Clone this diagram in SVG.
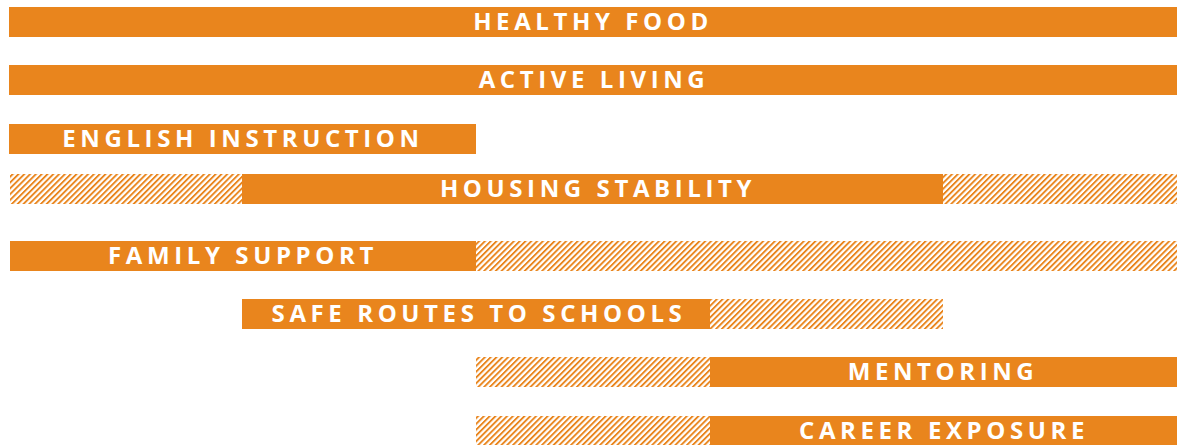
<svg xmlns="http://www.w3.org/2000/svg" width="1188" height="445" viewBox="0 0 1188 445">
  <defs>
    <pattern id="hatch" patternUnits="userSpaceOnUse" width="4.1" height="4.1" patternTransform="rotate(45)">
      <rect x="0" y="0" width="1.9" height="4.1" fill="#E9851D"/>
    </pattern>
    <style>
      .solid { fill: #E9851D; }
      .hatch { fill: url(#hatch); }
      .lbl { fill: #FFFFFF; font-family: "Open Sans", "Liberation Sans", sans-serif; font-weight: 700; font-size: 24px; letter-spacing: 4.6px; text-anchor: middle; }
    </style>
  </defs>
  <rect width="1188" height="445" fill="#FFFFFF"/>
  <g id="healthy-food">
    <rect class="solid" x="9" y="7" width="1168" height="30"/>
    <text class="lbl" x="593" y="30">HEALTHY FOOD</text>
  </g>
  <g id="active-living">
    <rect class="solid" x="9" y="65" width="1168" height="30"/>
    <text class="lbl" x="594" y="88">ACTIVE LIVING</text>
  </g>
  <g id="english-instruction">
    <rect class="solid" x="9" y="124" width="467" height="30"/>
    <text class="lbl" x="243" y="147">ENGLISH INSTRUCTION</text>
  </g>
  <g id="housing-stability">
    <rect class="hatch" x="10" y="174" width="232" height="30"/>
    <rect class="solid" x="242" y="174" width="701" height="30"/>
    <rect class="hatch" x="943" y="174" width="234" height="30"/>
    <text class="lbl" x="598" y="197">HOUSING STABILITY</text>
  </g>
  <g id="family-support">
    <rect class="solid" x="10" y="241" width="466" height="30"/>
    <rect class="hatch" x="476" y="241" width="701" height="30"/>
    <text class="lbl" x="243" y="264">FAMILY SUPPORT</text>
  </g>
  <g id="safe-routes">
    <rect class="solid" x="242" y="299" width="468" height="30"/>
    <rect class="hatch" x="710" y="299" width="233" height="30"/>
    <text class="lbl" x="479" y="322">SAFE ROUTES TO SCHOOLS</text>
  </g>
  <g id="mentoring">
    <rect class="hatch" x="476" y="357" width="234" height="30"/>
    <rect class="solid" x="710" y="357" width="467" height="30"/>
    <text class="lbl" x="943" y="380">MENTORING</text>
  </g>
  <g id="career-exposure">
    <rect class="hatch" x="476" y="416" width="234" height="29"/>
    <rect class="solid" x="710" y="416" width="467" height="29"/>
    <text class="lbl" x="944" y="439">CAREER EXPOSURE</text>
  </g>
  <g id="connectors"/>
</svg>
